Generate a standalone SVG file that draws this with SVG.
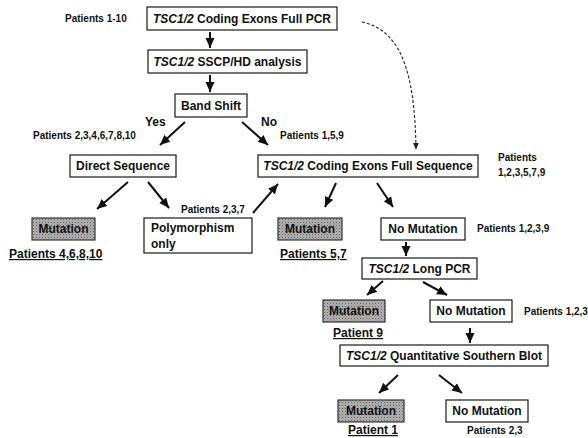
<svg xmlns="http://www.w3.org/2000/svg" width="588" height="438" viewBox="0 0 588 438">
<defs>
<style>
.box{fill:#fff;stroke:#1a1a1a;stroke-width:1.2}
.mut{fill:url(#stip);stroke:#333;stroke-width:1.2}
.t{font-family:"Liberation Sans",Arial,sans-serif;font-weight:bold;font-size:12px;fill:#111}
.s{font-family:"Liberation Sans",Arial,sans-serif;font-weight:bold;font-size:10px;fill:#111}
.c{text-anchor:middle}
.u{text-decoration:underline}
.i{font-style:italic}
.a{stroke:#111;stroke-width:2;fill:none;marker-end:url(#ah)}
.d{stroke:#222;stroke-width:1.1;fill:none;stroke-dasharray:3,2;marker-end:url(#ahs)}
</style>
<pattern id="stip" width="3" height="3" patternUnits="userSpaceOnUse">
<rect width="3" height="3" fill="#b4b4b4"/>
<rect x="0" y="0" width="1" height="1" fill="#5a5a5a"/>
<rect x="1.5" y="1.5" width="1" height="1" fill="#777"/>
</pattern>
<marker id="ah" markerUnits="userSpaceOnUse" markerWidth="10" markerHeight="10" viewBox="0 0 10 10" refX="10" refY="5" orient="auto">
<path d="M0,0.5 L10,5 L0,9.5 Z" fill="#111"/>
</marker>
<marker id="ahs" markerUnits="userSpaceOnUse" markerWidth="7" markerHeight="7" viewBox="0 0 10 10" refX="10" refY="5" orient="auto">
<path d="M0,1 L10,5 L0,9 Z" fill="#222"/>
</marker>
</defs>

<g id="connectors">
<line class="a" x1="210" y1="32" x2="210" y2="48"/>
<line class="a" x1="210" y1="75" x2="210" y2="92"/>
<line class="a" x1="185" y1="122" x2="160" y2="145"/>
<line class="a" x1="242" y1="122" x2="268" y2="145"/>
<line class="a" x1="128" y1="182" x2="97" y2="209"/>
<line class="a" x1="148" y1="182" x2="169" y2="208"/>
<line class="a" x1="253" y1="213" x2="278" y2="184"/>
<line class="a" x1="336" y1="183" x2="325" y2="207"/>
<line class="a" x1="377" y1="183" x2="393" y2="207"/>
<line class="a" x1="406" y1="242" x2="406" y2="256"/>
<line class="a" x1="383" y1="281" x2="367" y2="295"/>
<line class="a" x1="423" y1="282" x2="447" y2="295"/>
<line class="a" x1="470" y1="328" x2="470" y2="343"/>
<line class="a" x1="398" y1="375" x2="379" y2="393"/>
<line class="a" x1="439" y1="375" x2="462" y2="393"/>
<path class="d" d="M362,22 C400,30 415,70 416,150"/>
</g>

<g id="n1"><rect class="box" x="147" y="7" width="190" height="23"/><text class="t c" x="242" y="23"><tspan class="i">TSC1/2</tspan> Coding Exons Full PCR</text></g>
<g id="n2"><rect class="box" x="148" y="50" width="159" height="23"/><text class="t c" x="227.5" y="66"><tspan class="i">TSC1/2</tspan> SSCP/HD analysis</text></g>
<g id="n3"><rect class="box" x="175" y="94" width="72" height="23"/><text class="t c" x="211" y="110">Band Shift</text></g>
<g id="n4"><rect class="box" x="70" y="155" width="106" height="22"/><text class="t c" x="123" y="170">Direct Sequence</text></g>
<g id="n5"><rect class="mut" x="32" y="218" width="63" height="22"/><text class="t c" x="63.5" y="233">Mutation</text></g>
<g id="n6"><rect class="box" x="144" y="218" width="108" height="35"/><text class="t" x="151" y="232">Polymorphism</text><text class="t" x="151" y="248">only</text></g>
<g id="n7"><rect class="box" x="258" y="155" width="220" height="22"/><text class="t c" x="368" y="170"><tspan class="i">TSC1/2</tspan> Coding Exons Full Sequence</text></g>
<g id="n8"><rect class="mut" x="278" y="218" width="64" height="22"/><text class="t c" x="310" y="233">Mutation</text></g>
<g id="n9"><rect class="box" x="381" y="218" width="84" height="22"/><text class="t c" x="423" y="233">No Mutation</text></g>
<g id="n10"><rect class="box" x="362" y="258" width="115" height="21"/><text class="t c" x="419.5" y="273"><tspan class="i">TSC1/2</tspan> Long PCR</text></g>
<g id="n11"><rect class="mut" x="323" y="300" width="62" height="22"/><text class="t c" x="354" y="315">Mutation</text></g>
<g id="n12"><rect class="box" x="430" y="300" width="82" height="22"/><text class="t c" x="471" y="315">No Mutation</text></g>
<g id="n13"><rect class="box" x="340" y="345" width="208" height="21"/><text class="t c" x="444" y="360"><tspan class="i">TSC1/2</tspan> Quantitative Southern Blot</text></g>
<g id="n14"><rect class="mut" x="338" y="400" width="66" height="22"/><text class="t c" x="371" y="415">Mutation</text></g>
<g id="n15"><rect class="box" x="446" y="400" width="82" height="22"/><text class="t c" x="487" y="415">No Mutation</text></g>

<g id="labels">
<text class="s" x="65" y="22">Patients 1-10</text>
<text class="t" x="145" y="126">Yes</text>
<text class="t" x="261" y="126">No</text>
<text class="s" x="33" y="139">Patients 2,3,4,6,7,8,10</text>
<text class="s" x="280" y="139">Patients 1,5,9</text>
<text class="s" x="498" y="161">Patients</text>
<text class="s" x="498" y="176">1,2,3,5,7,9</text>
<text class="s" x="181" y="213">Patients 2,3,7</text>
<text class="t u" x="9" y="258">Patients 4,6,8,10</text>
<text class="t u" x="280" y="258">Patients 5,7</text>
<text class="s" x="477" y="232">Patients 1,2,3,9</text>
<text class="t u" x="333" y="337">Patient 9</text>
<text class="s" x="524" y="315">Patients 1,2,3</text>
<text class="t u" x="348" y="434">Patient 1</text>
<text class="s" x="467" y="434">Patients 2,3</text>
</g>
</svg>
